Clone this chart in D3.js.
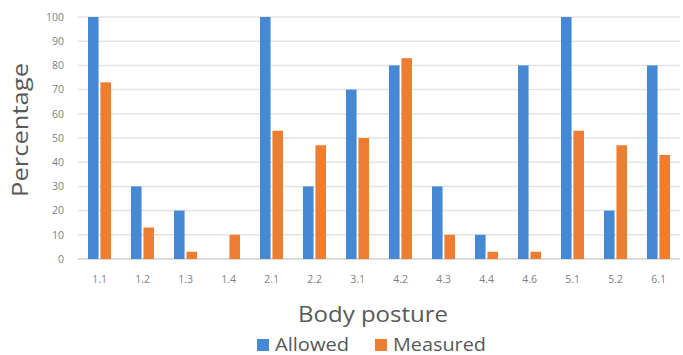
<!DOCTYPE html>
<html><head><meta charset="utf-8">
<script src="https://cdn.jsdelivr.net/npm/d3@7/dist/d3.min.js"></script>
<style>body{margin:0;background:#fff}svg{display:block}</style>
</head><body>
<svg id="c" width="683" height="355"></svg>
<script>
const categories = ["1.1","1.2","1.3","1.4","2.1","2.2","3.1","4.2","4.3","4.4","4.6","5.1","5.2","6.1"];
const allowed  = [100,30,20,0,100,30,70,80,30,10,80,100,20,80];
const measured = [73,13,3,10,53,47,50,83,10,3,3,53,47,43];
const yTicks = [0,10,20,30,40,50,60,70,80,90,100];
const seriesNames = ["Allowed","Measured"];
const colors = ["#4589d4","#ed7d31"];

const svg = d3.select("#c");
const m = {l:78, r:3, t:17, b:96};
const W = 683, H = 355;
const x = d3.scaleBand().domain(categories).range([m.l, W-m.r]);
const x1 = d3.scaleBand().domain(seriesNames).range([0, 23]).paddingInner(0.15);
const y = d3.scaleLinear().domain([0,100]).range([H-m.b, m.t]);
const font = "'Open Sans', sans-serif";

svg.append("g").selectAll("line").data(yTicks).join("line")
  .attr("x1", m.l).attr("x2", W-m.r)
  .attr("y1", d=>y(d)).attr("y2", d=>y(d))
  .attr("stroke", d=> d===0 ? "#d0d0d0" : "#e3e3e3").attr("stroke-width", 1.5);

const yAxis = svg.append("g").attr("transform", `translate(${m.l},0)`)
  .call(d3.axisLeft(y).tickValues(yTicks).tickSize(0).tickPadding(14));
yAxis.select(".domain").remove();
yAxis.selectAll("text").attr("font-family", font).attr("font-size", 10.5).attr("fill", "#7f7f7f");

const xAxis = svg.append("g").attr("transform", `translate(0,${H-m.b})`)
  .call(d3.axisBottom(x).tickSize(0).tickPadding(17));
xAxis.select(".domain").remove();
xAxis.selectAll("text").attr("font-family", font).attr("font-size", 10.5).attr("fill", "#7f7f7f");

const data = categories.map((c,i)=>({c, vals:[allowed[i], measured[i]]}));
const g = svg.append("g").selectAll("g").data(data).join("g")
  .attr("transform", d=>`translate(${x(d.c) + (x.bandwidth()-23)/2},0)`);
g.selectAll("rect").data(d=>d.vals.map((v,j)=>({v, s:seriesNames[j], j}))).join("rect")
  .attr("x", d=>x1(d.s)).attr("width", x1.bandwidth())
  .attr("y", d=>y(d.v)).attr("height", d=>y(0)-y(d.v))
  .attr("fill", d=>colors[d.j]);

svg.append("text").attr("transform", `translate(28,130) rotate(-90)`)
  .attr("text-anchor","middle").attr("font-family", font).attr("font-size", 21)
  .attr("textLength", 134).attr("lengthAdjust", "spacingAndGlyphs")
  .attr("fill","#595959").text("Percentage");

svg.append("text").attr("x", 373).attr("y", 322).attr("text-anchor","middle")
  .attr("font-family", font).attr("font-size", 22)
  .attr("textLength", 150).attr("lengthAdjust", "spacingAndGlyphs")
  .attr("fill","#595959").text("Body posture");

const leg = svg.append("g");
const legX = [257, 375];
const legLen = [74, 93];
seriesNames.forEach((s,i)=>{
  leg.append("rect").attr("x", legX[i]).attr("y", 339).attr("width", 12).attr("height", 12).attr("fill", colors[i]);
  leg.append("text").attr("x", legX[i]+18).attr("y", 350.5).attr("font-family", font).attr("font-size", 19)
    .attr("textLength", legLen[i]).attr("lengthAdjust", "spacingAndGlyphs")
    .attr("fill","#595959").text(s);
});
</script>
</body></html>
